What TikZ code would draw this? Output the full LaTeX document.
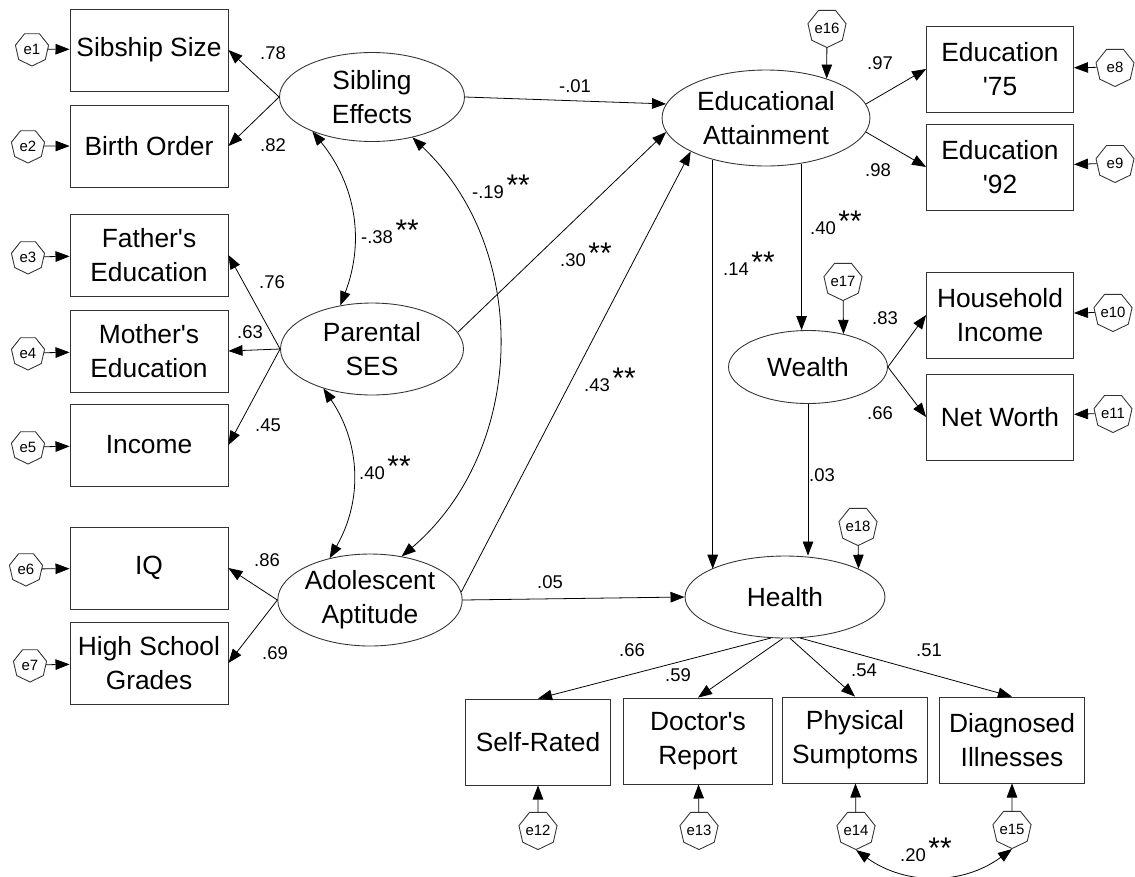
\documentclass[tikz,border=0pt]{standalone}
\usepackage{fontspec}
\setmainfont{Liberation Sans}[Ligatures=TeXOff]
\usetikzlibrary{arrows.meta, shapes.geometric, positioning, calc}
\newcommand{\weight}[3]
{
	\node[coef] at (#1,#2) {#3}
}
\newcommand{\sigweight}[3]
{
	\node[coef] at (#1,#2) {#3\rlap{\hspace{1.5pt}\raisebox{1.5pt}{\fontsize{17}{17}\selectfont **}}}
}

\begin{document}
\begin{tikzpicture}[x=0.02cm, y=-0.02cm,
	>={Triangle[length=8pt,width=6pt]},
	obs/.style={rectangle, draw=black!80, line width=0.5pt, align=center,
		inner sep=0pt, font=\fontsize{15}{19.5}\selectfont,
		minimum width=3.16cm, minimum height=1.64cm},
	ind/.style={obs, minimum width=2.94cm, minimum height=1.72cm},
	lat/.style={ellipse, draw=black!80, line width=0.5pt, align=center,
		inner sep=0pt, font=\fontsize{15}{19.5}\selectfont},
	res/.style={regular polygon, regular polygon sides=7, shape border rotate=180,
		draw=black!80, line width=0.5pt, inner sep=0pt, minimum size=0.68cm,
		font=\fontsize{8.5}{9}\selectfont},
	res2/.style={res, minimum size=0.78cm},
	coef/.style={inner sep=0pt, font=\fontsize{10.5}{12}\selectfont},
	link/.style={->, line width=0.45pt},
	cov/.style={<->, line width=0.45pt}]
	\useasboundingbox (0,0) rectangle (1135,876);

	\node[obs] at (149,50) (sibsize){Sibship Size};
	\node[obs] at (149,146) (birth){Birth Order};
	\node[obs] at (149,255) (father){Father's\\Education};
	\node[obs] at (149,351) (mother){Mother's\\Education};
	\node[obs] at (149,445) (income){Income};
	\node[obs] at (149,568) (iq){IQ};
	\node[obs] at (149,663) (grades){High School\\Grades};

	\node[res] at (32,49) (e1){e1};
	\node[res] at (28,146) (e2){e2};
	\node[res] at (28,257) (e3){e3};
	\node[res] at (28,353) (e4){e4};
	\node[res] at (28,447) (e5){e5};
	\node[res] at (26,569) (e6){e6};
	\node[res] at (30,665) (e7){e7};
	\draw[link] (e1) -- (sibsize);
	\draw[link] (e2) -- (birth);
	\draw[link] (e3) -- (father);
	\draw[link] (e4) -- (mother);
	\draw[link] (e5) -- (income);
	\draw[link] (e6) -- (iq);
	\draw[link] (e7) -- (grades);

	\node[lat, minimum width=3.7cm, minimum height=1.78cm] at (372,97) (sib){Sibling\\Effects};
	\node[lat, minimum width=3.66cm, minimum height=1.84cm] at (372,349) (ses){Parental\\SES};
	\node[lat, minimum width=3.44cm, minimum height=1.84cm] at (370,600) (apt){Adolescent\\Aptitude};
	\node[lat, minimum width=4.16cm, minimum height=1.92cm] at (766,118) (edu){Educational\\Attainment};
	\node[lat, minimum width=3.18cm, minimum height=1.46cm] at (808,367) (wealth){Wealth};
	\node[lat, minimum width=4.0cm, minimum height=1.64cm] at (785,597) (health){Health};

	\draw[link] (sib.west) -- (sibsize.east);
	\draw[link] (sib.west) -- (birth.east);
	\draw[link] (ses.west) -- (father.east);
	\draw[link] (ses.west) -- (mother.east);
	\draw[link] (ses.west) -- (income.east);
	\draw[link] (apt.west) -- (iq.east);
	\draw[link] (apt.west) -- (grades.east);
	\weight{273}{53}{.78};
	\weight{273}{145}{.82};
	\weight{272}{282}{.76};
	\weight{250}{332}{.63};
	\weight{268}{425}{.45};
	\weight{267}{560}{.86};
	\weight{275}{653}{.69};

	\draw[cov] (sib.210) to[bend left=30] (ses.126);
	\draw[cov] (sib.315) to[bend left=48] (apt.54);
	\draw[cov] (ses.219) to[bend left=32] (apt.134);
	\sigweight{377}{232}{-.38};
	\sigweight{488}{187}{-.19};
	\sigweight{372}{468}{.40};

	\draw[link] (sib.east) -- (edu.172);
	\draw[link] (ses.11) -- (edu.188);
	\draw[link] (apt.5) -- (edu.204);
	\draw[link] (apt.east) -- (health.west);
	\draw[link] (edu.218) -- (edu.218 |- health.159);
	\draw[link] (edu.308) -- (edu.308 |- wealth.north);
	\draw[link] (wealth.south) -- (wealth.south |- health.north);
	\weight{575}{86}{-.01};
	\sigweight{573}{255}{.30};
	\sigweight{597}{380}{.43};
	\weight{550}{582}{.05};
	\sigweight{736}{264}{.14};
	\sigweight{823}{223}{.40};
	\weight{822}{475}{.03};

	\node[res2] at (827,28) (e16){e16};
	\node[res2] at (843,281) (e17){e17};
	\node[res2] at (858,526) (e18){e18};
	\draw[link] (e16) -- (edu.33);
	\draw[link] (e17) -- (wealth.43);
	\draw[link] (e18) -- (health.21);

	\node[ind] at (1000,69) (ed75){Education\\'75};
	\node[ind] at (1000,167) (ed92){Education\\'92};
	\node[ind] at (1000,315) (hhinc){Household\\Income};
	\node[ind] at (1000,417) (worth){Net Worth};
	\node[res2] at (1115,67) (e8){e8};
	\node[res2] at (1115,163) (e9){e9};
	\node[res2] at (1113,312) (e10){e10};
	\node[res2] at (1113,413) (e11){e11};
	\draw[link] (e8) -- (ed75);
	\draw[link] (e9) -- (ed92);
	\draw[link] (e10) -- (hhinc);
	\draw[link] (e11) -- (worth);
	\draw[link] (edu.8) -- (ed75.west);
	\draw[link] (edu.-8) -- (ed92.west);
	\draw[link] (wealth.east) -- (hhinc.west);
	\draw[link] (wealth.east) -- (worth.west);
	\weight{880}{63}{.97};
	\weight{878}{170}{.98};
	\weight{885}{318}{.83};
	\weight{880}{413}{.66};

	\node[ind, minimum width=2.9cm] at (538,742) (selfr){Self-Rated};
	\node[ind, minimum width=2.98cm] at (698,741) (doctor){Doctor's\\Report};
	\node[ind, minimum width=2.9cm] at (855,740) (phys){Physical\\Sumptoms};
	\node[ind, minimum width=2.9cm] at (1012,740) (diag){Diagnosed\\Illnesses};
	\draw[link] (health.251) -- (selfr.north);
	\draw[link] (health.267) -- (doctor.north);
	\draw[link] (health.277) -- (phys.north);
	\draw[link] (health.290) -- (diag.north);
	\weight{632}{650}{.66};
	\weight{678}{675}{.59};
	\weight{864}{670}{.54};
	\weight{929}{650}{.51};

	\node[res2] at (538,830) (e12){e12};
	\node[res2] at (699,830) (e13){e13};
	\node[res2] at (856,830) (e14){e14};
	\node[res2] at (1012,829) (e15){e15};
	\draw[link] (e12) -- (selfr);
	\draw[link] (e13) -- (doctor);
	\draw[link] (e14) -- (phys);
	\draw[link] (e15) -- (diag);
	\draw[cov] (e14.south) to[bend right=36] (e15.south);
	\sigweight{913}{850}{.20};
\end{tikzpicture}
\end{document}
